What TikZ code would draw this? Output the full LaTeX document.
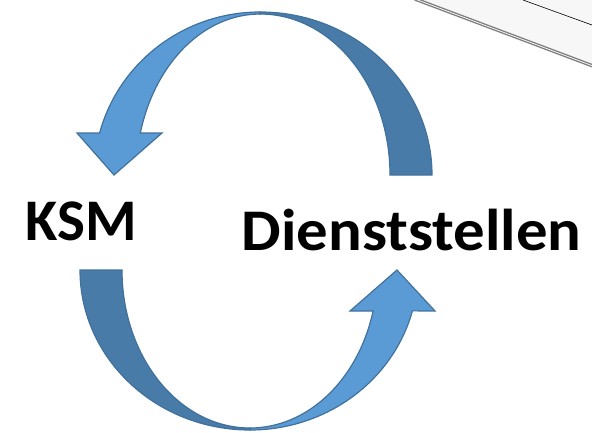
\documentclass[tikz,border=0pt]{standalone}
\usepackage{fontspec}
\usepackage{graphicx}
\setmainfont{Carlito}
\definecolor{lightband}{HTML}{5B9BD5}
\definecolor{darkband}{HTML}{487BA8}
\definecolor{bandedge}{HTML}{41719C}
\tikzset{
  band/.style={draw=bandedge, line width=1.2pt, line join=miter},
  front/.style={band, fill=lightband},
  back/.style={band, fill=darkband},
  label/.style={font=\fontsize{59}{70}\selectfont\bfseries, inner sep=0pt, anchor=base, text=black}
}
\begin{document}
\begin{tikzpicture}[x=1pt,y=1pt]
\useasboundingbox (0,0) rectangle (592,432);
% page edge in the top-right corner
\fill[black!3] (415,432) -- (592,366) -- (592,432) -- cycle;
\draw[black!50, line width=1.4pt, double=white, double distance=0.7pt] (415,433) -- (593,366);
\draw[black, line width=0.6pt] (523,432) -- (592,407);
% top arrow: back band
\path[back] (432,257) arc[start angle=0, end angle=90, x radius=172pt, y radius=163pt]
  -- (260,418) arc[start angle=90, end angle=0, x radius=130pt, y radius=161pt] -- cycle;
% top arrow: front band with head
\path[front] (260,420) arc[start angle=90, end angle=165.1, x radius=166pt, y radius=163pt]
  -- (77,299) -- (114,257) -- (162,299) -- (140.3,298.9)
  arc[start angle=164.9, end angle=90, x radius=124pt, y radius=161pt] -- cycle;
% bottom arrow: back band
\path[back] (80,162) arc[start angle=180, end angle=270, x radius=170pt, y radius=160pt]
  -- (250,4) arc[start angle=270, end angle=180, x radius=128pt, y radius=158pt] -- cycle;
% bottom arrow: front band with head
\path[front] (250,2) arc[start angle=270, end angle=345.2, x radius=168pt, y radius=160pt]
  -- (435,121) -- (397,162) -- (350,121) -- (373.1,121)
  arc[start angle=344.96, end angle=270, x radius=127.5pt, y radius=158pt] -- cycle;
% labels
\node[label] (ksm) at (81.5,192) {KSM};
\node[label] (dienst) at (411.5,182) {\scalebox{1.065}[1]{Dienststellen}};
\end{tikzpicture}
\end{document}
